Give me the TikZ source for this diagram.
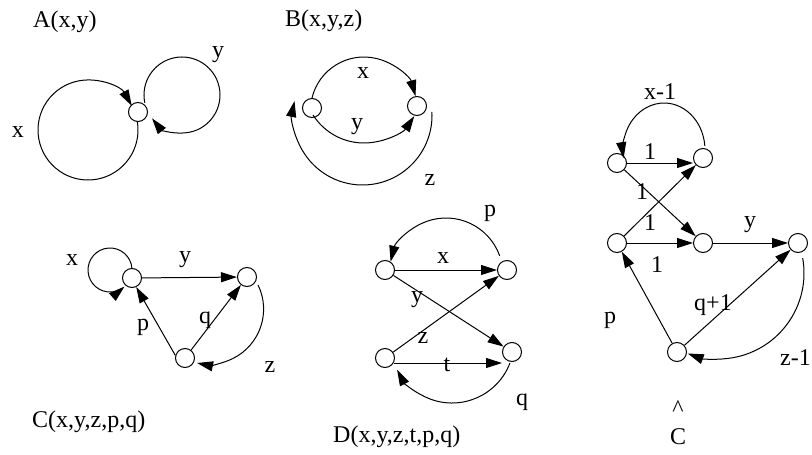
\documentclass[tikz,border=0pt]{standalone}
\usepackage{fontspec}
\setmainfont{Liberation Serif}
\usetikzlibrary{arrows.meta}
\tikzset{
    state/.style={draw, circle, line width=1pt, minimum size=19pt, inner sep=0pt},
    conn/.style={line width=1pt, -{Triangle[length=16pt, width=10pt]}},
    lbl/.style={inner sep=0pt, font=\fontsize{24}{28}\selectfont},
}

\begin{document}
\begin{tikzpicture}[x=1pt, y=1pt]
\useasboundingbox (0,0) rectangle (812,-455);

% A(x,y)
\node[lbl, anchor=west] (A-title) at (33,-21.7) {A(x,y)};
\node[state] (A) at (138,-112) {};
\coordinate (A-ox) at (88,-130);
\coordinate (A-oy) at (182,-95);
\draw[conn] ([shift={(10:50)}]A-ox) arc[start angle=10, end angle=-331, radius=50];
\draw[conn] ([shift={(-168:38)}]A-oy) arc[start angle=-168, end angle=-502, radius=38];
\node[lbl] (A-x) at (18,-132) {x};
\node[lbl] (A-y) at (218,-55) {y};

% B(x,y,z)
\node[lbl, anchor=west] (B-title) at (285,-20.8) {B(x,y,z)};
\node[state] (B1) at (312,-108) {};
\node[state] (B2) at (417,-106) {};
\coordinate (B-ox) at (364,-110.5);
\coordinate (B-oy) at (364,-82.6);
\coordinate (B-oz) at (362.5,-115.5);
\draw[conn] ([shift={(166.5:53.5)}]B-ox) arc[start angle=166.5, end angle=15.6, radius=53.5];
\draw[conn] ([shift={(-147.6:60.4)}]B-oy) arc[start angle=-147.6, end angle=-33.7, radius=60.4];
\draw[conn] ([shift={(3:69.5)}]B-oz) arc[start angle=3, end angle=-192, radius=69.5];
\node[lbl] (B-x) at (363,-73) {x};
\node[lbl] (B-y) at (357,-127) {y};
\node[lbl] (B-z) at (430,-180) {z};

% C(x,y,z,p,q)
\node[lbl, anchor=west] (C-title) at (32,-421.7) {C(x,y,z,p,q)};
\node[state] (C1) at (132,-278) {};
\node[state] (C2) at (247,-277) {};
\node[state] (C3) at (185,-358) {};
\coordinate (C-ox) at (110,-270);
\coordinate (C-oz) at (208.5,-309.1);
\draw[conn] ([shift={(4:22)}]C-ox) arc[start angle=4, end angle=311, radius=22];
\draw[conn] (C1) -- (C2);
\draw[conn] (C3.165) -- (C1.-65);
\draw[conn] (C3) -- (C2);
\draw[conn] ([shift={(26:55.1)}]C-oz) arc[start angle=26, end angle=-102, radius=55.1];
\node[lbl] (C-x) at (72,-260) {x};
\node[lbl] (C-y) at (185,-260) {y};
\node[lbl] (C-p) at (143,-327) {p};
\node[lbl] (C-q) at (205,-320) {q};
\node[lbl] (C-z) at (270,-367) {z};

% D(x,y,z,t,p,q)
\node[lbl, anchor=west] (D-title) at (333,-436.7) {D(x,y,z,t,p,q)};
\node[state] (D1) at (385,-270) {};
\node[state] (D2) at (507,-270) {};
\node[state] (D3) at (385,-358) {};
\node[state] (D4) at (512,-352) {};
\coordinate (D-op) at (446,-275);
\coordinate (D-oq) at (452,-341);
\draw[conn] (D1) -- (D2);
\draw[conn] (D1) -- (D4);
\draw[conn] (D3) -- (D2);
\draw[conn] (D3.-30) -- (D3.-30 -| D4.west);
\draw[conn] ([shift={(19.7:57)}]D-op) arc[start angle=19.7, end angle=166.5, radius=57];
\draw[conn] ([shift={(-20.8:62)}]D-oq) arc[start angle=-20.8, end angle=-152.3, radius=62];
\node[lbl] (D-x) at (443,-258) {x};
\node[lbl] (D-y) at (417,-300) {y};
\node[lbl] (D-z) at (423,-338) {z};
\node[lbl] (D-t) at (447,-365) {t};
\node[lbl] (D-p) at (490,-213) {p};
\node[lbl] (D-q) at (522,-402) {q};

% C hat
\node[lbl, align=center, anchor=north] (E-title) at (678,-401) {\textasciicircum\\C};
\node[state] (E1) at (617,-163) {};
\node[state] (E2) at (703,-158) {};
\node[state] (E3) at (617,-243) {};
\node[state] (E4) at (703,-243) {};
\node[state] (E5) at (798,-243) {};
\node[state] (E6) at (677,-352) {};
\coordinate (E-ox) at (664,-150);
\coordinate (E-oz) at (718,-273);
\draw[conn] (E1.east) -- (E1.east -| E2.west);
\draw[conn] (E1) -- (E4);
\draw[conn] (E3) -- (E2);
\draw[conn] (E3) -- (E4);
\draw[conn] (E4) -- (E5);
\draw[conn] (E6) -- (E3);
\draw[conn] (E6) -- (E5);
\draw[conn] ([shift={(5:41 and 47)}]E-ox) arc[start angle=5, end angle=190, x radius=41, y radius=47];
\draw[conn] ([shift={(10:86)}]E-oz) arc[start angle=10, end angle=-110.6, radius=86];
\node[lbl] (E-l1) at (650,-152) {1};
\node[lbl] (E-l2) at (642,-192) {1};
\node[lbl] (E-l3) at (650,-223) {1};
\node[lbl] (E-l4) at (657,-265) {1};
\node[lbl] (E-y) at (750,-225) {y};
\node[lbl] (E-x) at (660,-92) {x-1};
\node[lbl] (E-p) at (610,-320) {p};
\node[lbl] (E-q) at (713,-305) {q+1};
\node[lbl, anchor=east] (E-z) at (811,-358) {z-1};
\end{tikzpicture}
\end{document}
